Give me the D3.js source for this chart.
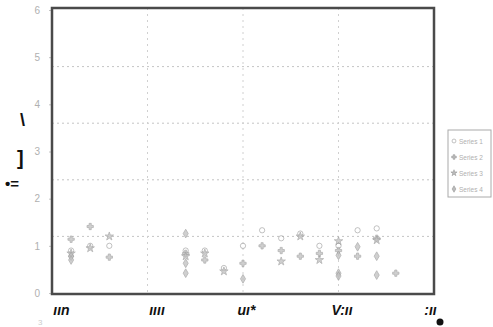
<!DOCTYPE html>
<html><head><meta charset="utf-8">
<script src="https://cdn.jsdelivr.net/npm/d3@7"></script>
<style>body{margin:0;background:#fff}svg{display:block}</style>
</head><body><svg id="c" width="493" height="327"></svg>
<script>
const seriesNames = ["Series 1","Series 2","Series 3","Series 4"];
const s1x = [1,2,3,7,8,9,10,11,12,13,14,15,16,17];
const s1y = [0.9,1.0,1.0,0.9,0.9,0.53,1.0,1.33,1.16,1.26,1.0,1.0,1.33,1.37];
const s2x = [1,2,3,7,8,10,11,12,13,14,15,16,17,18];
const s2y = [1.14,1.41,0.76,0.84,0.7,0.63,1.0,0.9,0.78,0.84,0.9,0.78,1.16,0.42];
const s3x = [1,2,3,7,8,9,12,13,14,15,17];
const s3y = [0.84,0.95,1.2,0.78,0.84,0.46,0.67,1.2,0.7,1.1,1.12];
const s4x = [1,1,7,7,7,10,15,15,15,16,17,17];
const s4y = [0.78,0.7,1.26,0.63,0.42,0.3,0.8,0.42,0.36,0.98,0.78,0.38];
const yTicks = [0,1,2,3,4,5,6];
const yGrid = [1.2,2.4,3.6,4.8];
const xTicks = [0,5,10,15,20];
const xTickLabels = ["ıın","ıııı","uı*","V:ıı",":ıı"];

const svg = d3.select("#c");
const L=52,R=434,T=8,B=294;
const x = d3.scaleLinear().domain([0,20]).range([L,R]);
const y = d3.scaleLinear().domain([0,6]).range([B-1,T+2]);

// grid
svg.append("g").selectAll("line").data(yGrid).join("line")
  .attr("x1",L).attr("x2",R).attr("y1",d=>y(d)).attr("y2",d=>y(d))
  .attr("stroke","#c4c4c4").attr("stroke-dasharray","2,3");
svg.append("g").selectAll("line").data(xTicks.slice(1,-1)).join("line")
  .attr("y1",T).attr("y2",B).attr("x1",d=>x(d)).attr("x2",d=>x(d))
  .attr("stroke","#d0d0d0").attr("stroke-dasharray","2,4");

// y axis labels
const ya = svg.append("g").attr("transform",`translate(${L},0)`)
  .call(d3.axisLeft(y).tickValues(yTicks).tickFormat(d3.format("d")).tickSize(3).tickPadding(9));
ya.select(".domain").remove();
ya.selectAll("text").attr("fill","#b0b0b0").attr("font-size",10).attr("font-family","Liberation Sans, Arial");
ya.selectAll("line").attr("stroke","#c4c4c4");

// x axis labels
const xa = svg.append("g").attr("transform",`translate(0,${B})`)
  .call(d3.axisBottom(x).tickValues(xTicks).tickFormat((d,i)=>xTickLabels[i]).tickSize(0).tickPadding(11));
xa.select(".domain").remove();
xa.selectAll("text").attr("fill","#111").attr("font-size",14).attr("font-weight","bold")
  .attr("font-style","italic").attr("font-family","Liberation Sans, Arial")
  .attr("dx",(d,i)=> i===4 ? -4 : (i<2 ? 9 : 3));
svg.append("circle").attr("cx",x(20)+6).attr("cy",B+28).attr("r",3.5).attr("fill","#111");
svg.append("text").attr("x",38).attr("y",325).attr("fill","#ccc").attr("font-size",8)
  .attr("font-family","Liberation Sans, Arial").text("3");

// frame
svg.append("rect").attr("x",L).attr("y",T).attr("width",R-L).attr("height",B-T)
  .attr("fill","none").attr("stroke","#4a4a4a").attr("stroke-width",2.5);

// y-axis title fragments
svg.append("text").attr("x",5).attr("y",189).attr("font-size",15).attr("font-weight","bold")
  .attr("fill","#111").attr("font-family","Liberation Sans, Arial").text("•=");
svg.append("text").attr("x",17).attr("y",165).attr("font-size",20).attr("font-weight","bold")
  .attr("fill","#111").attr("font-family","Liberation Sans, Arial").text("]");
svg.append("text").attr("x",20).attr("y",126).attr("font-size",18).attr("font-weight","bold")
  .attr("fill","#111").attr("font-family","Liberation Sans, Arial").text("\\");

// points
const shapes = [d3.symbolCircle, d3.symbolCross, d3.symbolStar, d3.symbolDiamond];
const series = [[s1x,s1y],[s2x,s2y],[s3x,s3y],[s4x,s4y]];
series.forEach(([xs,ys],si)=>{
  const sym = d3.symbol().type(shapes[si]).size(22);
  svg.append("g").selectAll("path").data(xs.map((v,i)=>[v,ys[i]])).join("path")
    .attr("transform",d=>`translate(${x(d[0])},${y(d[1])})`)
    .attr("d",sym).attr("fill", si===0 ? "none" : "#c0c0c0")
    .attr("stroke","#999").attr("stroke-width",0.8).attr("opacity",0.75);
});

// legend
const lg = svg.append("g").attr("transform","translate(448,130)");
lg.append("rect").attr("width",43).attr("height",67).attr("fill","#fff")
  .attr("stroke","#aaa").attr("stroke-width",1);
seriesNames.forEach((n,i)=>{
  const g = lg.append("g").attr("transform",`translate(0,${11+i*16})`);
  g.append("path").attr("transform","translate(6,0)")
    .attr("d",d3.symbol().type(shapes[i]).size(12))
    .attr("fill", i===0 ? "none" : "#bbb").attr("stroke","#999").attr("stroke-width",0.6);
  g.append("text").attr("x",11).attr("y",2.5).attr("font-size",6.5).attr("fill","#b0b0b0")
    .attr("font-family","Liberation Sans, Arial").text(n);
});
</script></body></html>
